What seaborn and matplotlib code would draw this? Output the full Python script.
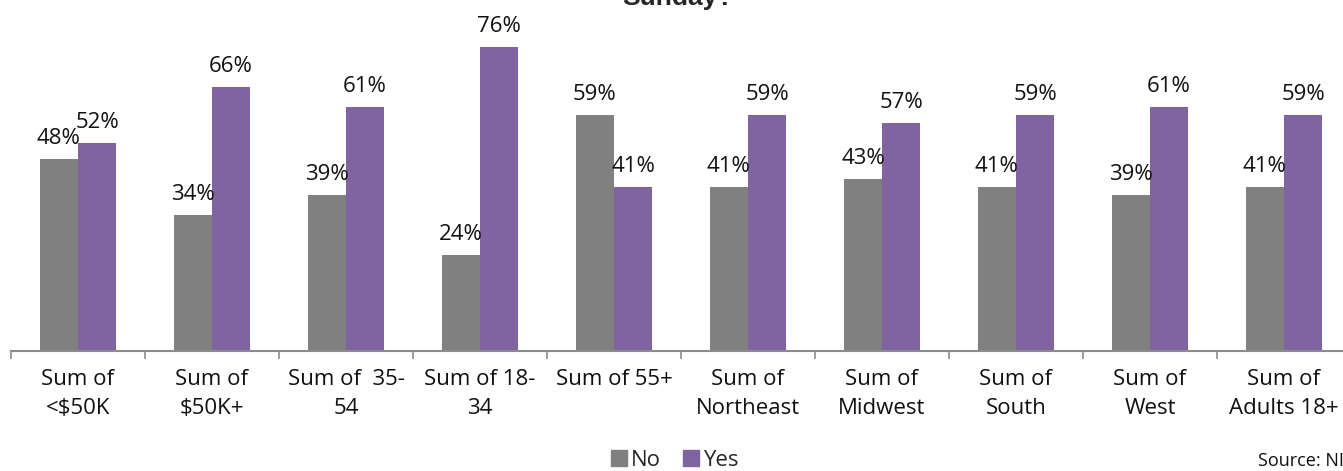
import numpy as np
import pandas as pd
import matplotlib
matplotlib.use("Agg")
import matplotlib.pyplot as plt
import matplotlib.patches as mpatches
import seaborn as sns

# chart data
categories = ["Sum of\n<$50K", "Sum of\n$50K+", "Sum of  35-\n54", "Sum of 18-\n34",
              "Sum of 55+", "Sum of\nNortheast", "Sum of\nMidwest", "Sum of\nSouth",
              "Sum of\nWest", "Sum of\nAdults 18+"]
no_vals = [48, 34, 39, 24, 59, 41, 43, 41, 39, 41]
yes_vals = [52, 66, 61, 76, 41, 59, 57, 59, 61, 59]
series = ["No", "Yes"]
colors = {"No": "#808080", "Yes": "#8064A2"}

df = pd.DataFrame({
    "category": categories * 2,
    "answer": ["No"] * len(categories) + ["Yes"] * len(categories),
    "value": no_vals + yes_vals,
})

sns.set_style("white")
plt.rcParams["font.family"] = ["Open Sans", "DejaVu Sans"]

fig = plt.figure(figsize=(13.43, 4.71), dpi=100)
ax = fig.add_axes([11 / 1343, 1 - 350.5 / 471, 1340 / 1343, 320 / 471])

sns.barplot(data=df, x="category", y="value", hue="answer", hue_order=series,
            palette=colors, width=0.57, gap=0, linewidth=0, saturation=1,
            legend=False, ax=ax)

ax.set_ylim(0, 80)
ax.set_xlim(-0.5, len(categories) - 0.5)

# value labels above each bar
for cont, vals in zip(ax.containers, [no_vals, yes_vals]):
    ax.bar_label(cont, labels=[f"{v}%" for v in vals], padding=6.5, fontsize=16, color="#111111")

# axes styling
for s in ["top", "right", "left"]:
    ax.spines[s].set_visible(False)
ax.spines["bottom"].set_color("#8c8c8c")
ax.spines["bottom"].set_linewidth(1.5)
ax.set_yticks([])
ax.set_xlabel("")
ax.set_ylabel("")
ax.set_xticks(np.arange(-0.5, len(categories), 1.0), minor=True)
ax.tick_params(axis="x", which="minor", bottom=True, length=5.5, width=1.2,
               color="#8c8c8c", direction="out")
ax.tick_params(axis="x", which="major", bottom=True, length=0, pad=13,
               labelsize=16, labelcolor="#111111")
for lab in ax.get_xticklabels():
    lab.set_linespacing(1.5)

# title (mostly cut off by top edge in original)
fig.text(678 / 1343, 1 - 5 / 471, "Sunday?", ha="center", va="baseline",
         fontsize=19, fontweight="bold", family=["Liberation Sans", "DejaVu Sans"])

handles = [mpatches.Patch(color=colors[s]) for s in series]
fig.legend(handles, series, loc="center", bbox_to_anchor=(675 / 1343, 1 - 460 / 471),
           ncol=2, frameon=False, fontsize=16, handlelength=0.7, handleheight=0.7,
           handletextpad=0.2, columnspacing=1.0)

fig.text(1258 / 1343, 1 - 466 / 471, "Source: NIELSEN", ha="left", va="baseline",
         fontsize=13, color="#111111")

fig.savefig("out.png", dpi=100)
